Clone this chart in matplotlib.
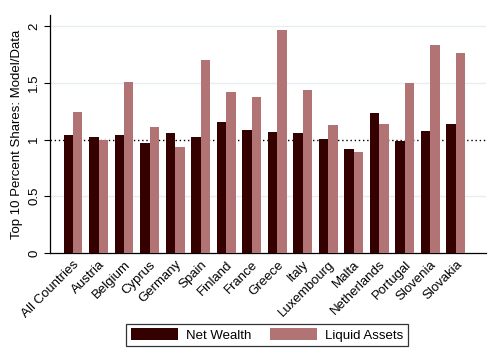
import numpy as np
import matplotlib
matplotlib.use("Agg")
import matplotlib.pyplot as plt

plt.rcParams['font.family'] = ['Liberation Sans', 'DejaVu Sans']

countries = ["All Countries", "Austria", "Belgium", "Cyprus", "Germany", "Spain",
             "Finland", "France", "Greece", "Italy", "Luxembourg", "Malta",
             "Netherlands", "Portugal", "Slovenia", "Slovakia"]
net_wealth = [1.044, 1.02, 1.044, 0.973, 1.062, 1.02, 1.159, 1.088,
              1.071, 1.056, 1.009, 0.920, 1.239, 0.991, 1.080, 1.142]
liquid_assets = [1.248, 1.0, 1.504, 1.115, 0.938, 1.70, 1.416, 1.38,
                 1.965, 1.434, 1.133, 0.894, 1.142, 1.496, 1.832, 1.761]
yticks = [0, 0.5, 1, 1.5, 2]
ytick_labels = ["0", "0.5", "1", "1.5", "2"]

fig = plt.figure(figsize=(5.0, 3.64), dpi=100)
ax = fig.add_axes([0.1, 0.305, 0.872, 0.654])

x = np.arange(len(countries))
w = 0.37
ax.bar(x - w / 2, net_wealth, w, color="#340000", label="Net Wealth", zorder=3)
ax.bar(x + w / 2, liquid_assets, w, color="#b17374", label="Liquid Assets", zorder=3)

ax.axhline(1, color="black", linestyle=(0, (1, 2)), lw=1, zorder=2)
for yv in [0.5, 1.5, 2]:
    ax.axhline(yv, color="#e6eef0", lw=1, zorder=1)

ax.set_xlim(-0.9, 16.18)
ax.set_ylim(0, 2.1)
ax.set_yticks(yticks)
ax.set_yticklabels(ytick_labels, rotation=90, va="center", fontsize=9.5)
ax.set_xticks(x)
ax.set_xticklabels(countries, rotation=45, ha="right", rotation_mode="anchor", fontsize=9.5)
ax.tick_params(axis="x", length=0, pad=4)
ax.tick_params(axis="y", length=4, width=0.8, pad=3)
ax.set_ylabel("Top 10 Percent Shares: Model/Data", fontsize=9.5, labelpad=4)

for s in ["top", "right"]:
    ax.spines[s].set_visible(False)
ax.spines["left"].set_linewidth(0.9)
ax.spines["bottom"].set_linewidth(0.9)

leg = fig.legend(loc="center", bbox_to_anchor=(0.534, 0.080), ncol=2, fontsize=9.5,
                 frameon=True, fancybox=False, edgecolor="black", handlelength=3.6,
                 handleheight=1.0, columnspacing=1.4, borderpad=0.35, handletextpad=0.6)
leg.get_frame().set_linewidth(0.9)

fig.savefig("out.png", dpi=100, facecolor="white")
